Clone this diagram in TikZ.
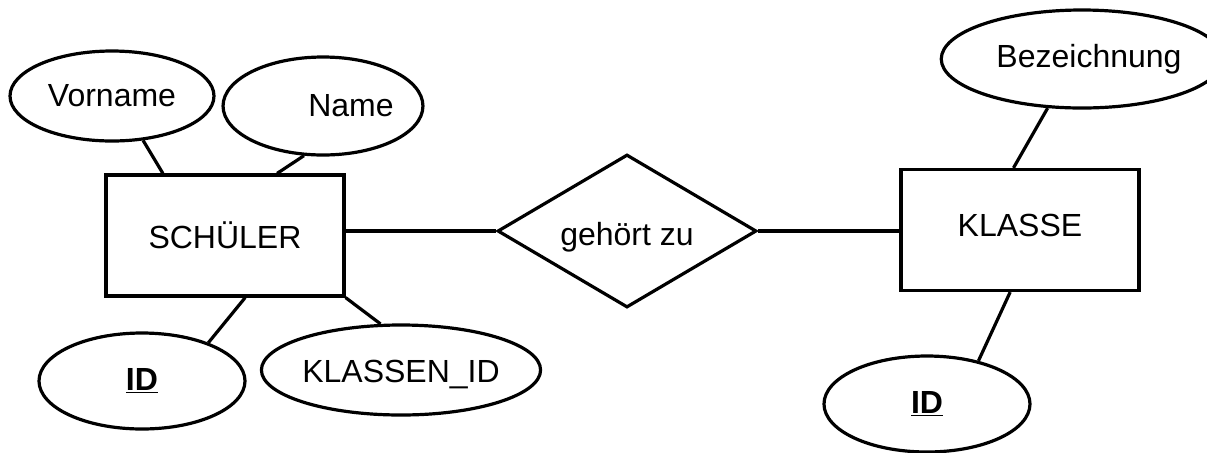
\documentclass[tikz,border=0pt]{standalone}
\usepackage{fontspec}
\setmainfont{Liberation Sans}
\usetikzlibrary{shapes.geometric}

\begin{document}
\begin{tikzpicture}[x=0.5pt,y=-0.5pt,line width=1.6pt,font=\fontsize{16}{19}\selectfont]

  \tikzstyle{entitynode}=[draw=black,shape=rectangle,minimum width=119pt,minimum height=60.5pt,inner sep=0pt]
  \tikzstyle{attrnode}=[draw=black,shape=ellipse,inner sep=0pt]
  \tikzstyle{relnode}=[draw=black,shape=diamond,aspect=1.7,minimum width=129.5pt,minimum height=76.5pt,inner sep=0pt]

  \useasboundingbox (0,0) rectangle (1207,452);

  \node[entitynode] (schueler) at (225,235.5) {SCHÜLER};
  \node[entitynode] (klasse)   at (1020,230)  {\raisebox{2.5pt}[\height][\depth]{KLASSE}};
  \node[relnode]    (gehoert)  at (627,231)   {\raisebox{-3pt}[\height][\depth]{gehört zu}};

  \node[attrnode,minimum width=102pt,minimum height=45pt] (vorname)     at (112,96)  {Vorname};
  \node[attrnode,minimum width=75pt,minimum height=49pt]  (name)        at (323,106) {\hspace*{28pt}Name};
  \node[attrnode,minimum width=103pt,minimum height=48pt] (sid)         at (142,381) {\underline{\textbf{ID}}};
  \node[attrnode,minimum width=118pt,minimum height=45pt] (klassenid)   at (401,370) {\raisebox{-2pt}[\height][\depth]{KLASSEN\_ID}};
  \node[attrnode,minimum width=124pt,minimum height=49pt] (bezeichnung) at (1082,59) {\hspace*{7pt}Bezeichnung};
  \node[attrnode,minimum width=103pt,minimum height=48pt] (kid)         at (927,404) {\underline{\textbf{ID}}};

  \path (vorname.-55)       edge (schueler.135)
        (name.-111)         edge (schueler.50)
        (sid.30)            edge (schueler.-72)
        (klassenid.114)     edge (schueler.south east)
        (schueler.east |- gehoert.west) edge (gehoert.west)
        (gehoert.east)      edge (klasse.west |- gehoert.east)
        (bezeichnung.235)   edge (klasse.96)
        (kid.40)            edge (klasse.-99);
\end{tikzpicture}
\end{document}
